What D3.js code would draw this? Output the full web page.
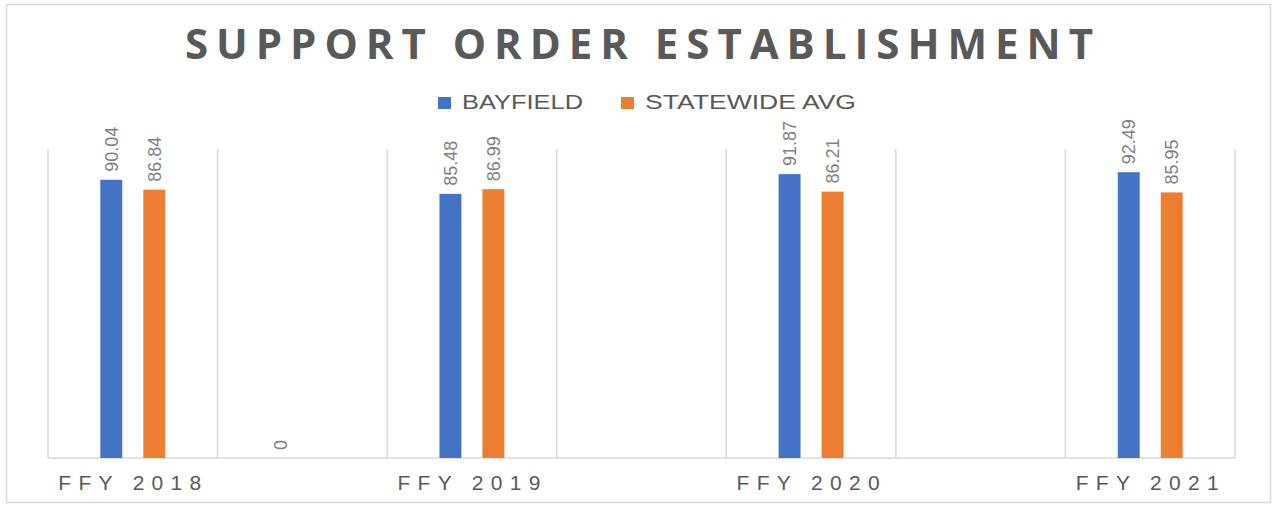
<!DOCTYPE html>
<html>
<head>
<meta charset="utf-8">
<script src="https://cdn.jsdelivr.net/npm/d3@7"></script>
<style>
  body { margin: 0; background: #fff; }
  svg { display: block; }
  .grid { stroke: #d9d9d9; stroke-width: 1.5; }
  .lbl { font-family: "Liberation Sans", Arial, sans-serif; fill: #7f7f7f; font-size: 18px; }
</style>
</head>
<body>
<svg id="chart" width="1275" height="505"></svg>
<script>
// chart data
const categories = ['FFY 2018', '', 'FFY 2019', '', 'FFY 2020', '', 'FFY 2021']
const seriesNames = ['BAYFIELD', 'STATEWIDE AVG']
const bayfield = [90.04, 0, 85.48, null, 91.87, null, 92.49]
const statewide = [86.84, null, 86.99, null, 86.21, null, 85.95]
const colors = ['#4472C4', '#ED7D31']

const svg = d3.select('#chart')

// outer frame
svg.append('rect')
  .attr('x', 6.5).attr('y', 4.5)
  .attr('width', 1264).attr('height', 498)
  .attr('fill', '#fff').attr('stroke', '#d9d9d9').attr('stroke-width', 1.5)

const x = d3.scaleBand().domain(d3.range(categories.length)).range([48, 1235])
const x1 = d3.scaleBand().domain([0, 1]).range([-43, 43])
  .paddingInner(0.49).paddingOuter(0.245)
const y = d3.scaleLinear().domain([0, 100]).range([458, 149])

// vertical gridlines at category edges
const edges = d3.range(categories.length + 1).map(i => i < categories.length ? x(i) : x.range()[1])
svg.selectAll('line.vgrid')
  .data(edges)
  .enter().append('line').classed('grid', true)
  .attr('x1', d => d).attr('x2', d => d)
  .attr('y1', y(100)).attr('y2', y(0))

// category axis
svg.append('line').classed('grid', true)
  .attr('x1', x.range()[0]).attr('x2', x.range()[1])
  .attr('y1', y(0)).attr('y2', y(0))

svg.selectAll('text.cat')
  .data(categories.map((c, i) => ({ c, i })).filter(d => d.c !== ''))
  .enter().append('text').classed('cat', true)
  .attr('x', d => x(d.i) + x.bandwidth() / 2 - 3)
  .attr('y', 490)
  .attr('text-anchor', 'middle')
  .attr('textLength', 143)
  .attr('lengthAdjust', 'spacing')
  .style('font-family', '"Liberation Sans", Arial, sans-serif')
  .style('font-size', '21px')
  .style('fill', '#595959')
  .text(d => d.c)

// bars and labels
const series = [bayfield, statewide]
series.forEach((vals, s) => {
  const pts = vals.map((v, i) => ({ v, i })).filter(d => d.v !== null)
  const cx = d => x(d.i) + x.bandwidth() / 2 + x1(s)

  svg.selectAll('rect.bar' + s)
    .data(pts)
    .enter().append('rect').classed('bar' + s, true)
    .attr('x', cx)
    .attr('width', x1.bandwidth())
    .attr('y', d => y(d.v))
    .attr('height', d => y(0) - y(d.v))
    .attr('fill', colors[s])

  svg.selectAll('text.val' + s)
    .data(pts)
    .enter().append('text').attr('class', 'lbl val' + s)
    .attr('transform', d => `translate(${cx(d) + x1.bandwidth() / 2 + 6.5},${y(d.v) - 8}) rotate(-90)`)
    .text(d => d.v === 0 ? '0' : d.v.toFixed(2))
})

// title
svg.append('text')
  .attr('x', 185).attr('y', 59)
  .attr('textLength', 908)
  .attr('lengthAdjust', 'spacing')
  .style('font-family', '"Open Sans", sans-serif')
  .style('font-weight', 700)
  .style('font-size', '42px')
  .style('fill', '#595959')
  .text('SUPPORT ORDER ESTABLISHMENT')

// legend
const legendX = [438, 621]
const legendW = [121, 211]
seriesNames.forEach((name, s) => {
  svg.append('rect')
    .attr('x', legendX[s]).attr('y', 97)
    .attr('width', 13).attr('height', 12)
    .attr('fill', colors[s])
  svg.append('text')
    .attr('x', legendX[s] + 24).attr('y', 109)
    .attr('textLength', legendW[s])
    .attr('lengthAdjust', 'spacingAndGlyphs')
    .style('font-family', '"Liberation Sans", Arial, sans-serif')
    .style('font-size', '20px')
    .style('fill', '#595959')
    .text(name)
})
</script>
</body>
</html>
